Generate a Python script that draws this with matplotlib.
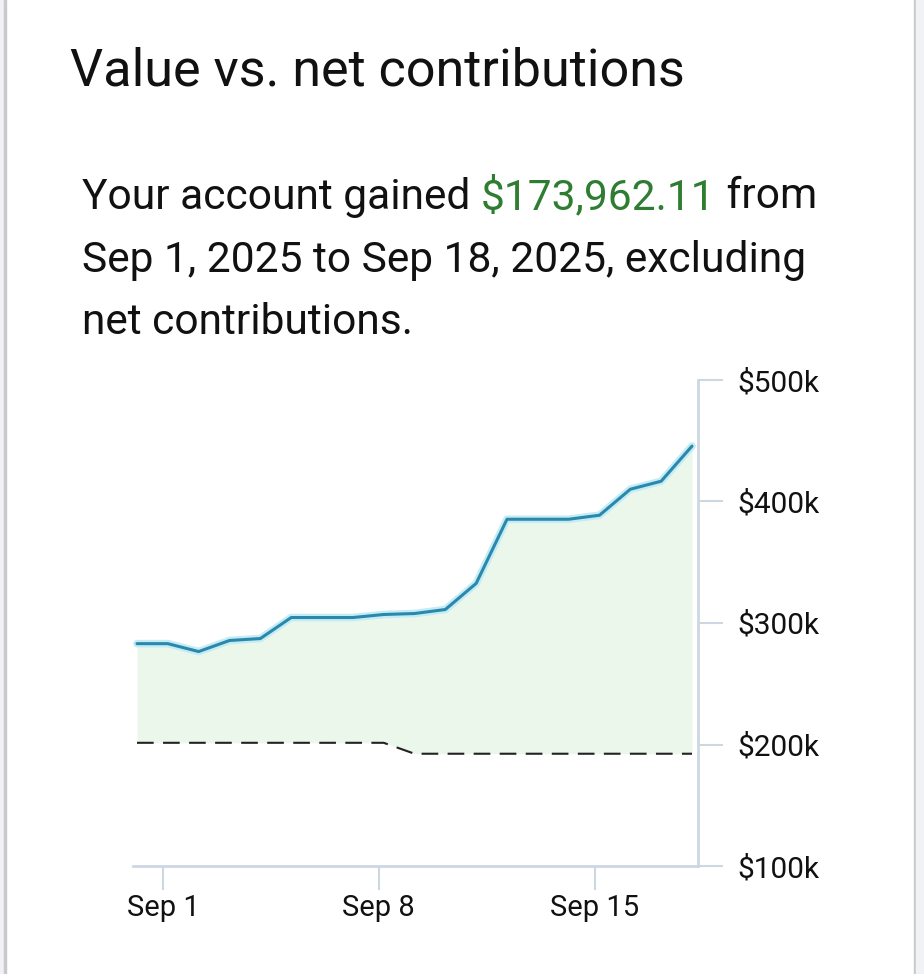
import matplotlib
matplotlib.use("Agg")
import matplotlib.pyplot as plt
import numpy as np
from matplotlib.patches import Rectangle

# ---- data ----
dates = ["Aug 31", "Sep 1", "Sep 2", "Sep 3", "Sep 4", "Sep 5", "Sep 6", "Sep 7", "Sep 8",
         "Sep 9", "Sep 10", "Sep 11", "Sep 12", "Sep 13", "Sep 14", "Sep 15", "Sep 16",
         "Sep 17", "Sep 18"]
account_value_k = [283.0, 283.0, 276.5, 285.6, 287.2, 304.5, 304.5, 304.5, 307.0,
                   307.8, 311.1, 332.6, 385.4, 385.4, 385.4, 388.7, 410.1, 416.7, 445.6]
net_contrib_k = [201.4, 201.4, 201.4, 201.4, 201.4, 201.4, 201.4, 201.4, 201.4,
                 192.4, 192.4, 192.4, 192.4, 192.4, 192.4, 192.4, 192.4, 192.4, 192.4]
tick_labels = ["Sep 1", "Sep 8", "Sep 15"]
tick_days = [1, 8, 15]          # day offsets from Aug 31
y_ticks_k = [100, 200, 300, 400, 500]

# day offset of each sample from Aug 31 (samples taken slightly after midnight)
x = np.arange(len(dates)) + 0.16

W, H = 924, 974
fig = plt.figure(figsize=(W / 100, H / 100), dpi=100)
fig.patch.set_facecolor("white")

# frame of the card
fig.add_artist(Rectangle((0, 0), 4 / W, 1, transform=fig.transFigure, color="#f1f2f5", zorder=0))
fig.add_artist(Rectangle((4 / W, 0), 2 / W, 1, transform=fig.transFigure, color="#c9c9c9", zorder=0))
fig.add_artist(Rectangle((914 / W, 0), 2 / W, 1, transform=fig.transFigure, color="#c9c9c9", zorder=0))
fig.add_artist(Rectangle((916 / W, 0), 8 / W, 1, transform=fig.transFigure, color="#f1f2f5", zorder=0))

font = "Roboto"
fig.text(70 / W, 1 - 72 / H, "Value vs. net contributions", fontsize=37.5, family=font,
         color="#111111", va="center", ha="left")

body_fs = 30.6
line1_y = 1 - 197 / H
t1 = fig.text(82 / W, line1_y, "Your account gained ", fontsize=body_fs, family=font,
              color="#111111", va="center", ha="left")
fig.canvas.draw()
r = fig.canvas.get_renderer()
bb = t1.get_window_extent(r)
t2 = fig.text(bb.x1 / W, line1_y, "$173,962.11", fontsize=body_fs, family=font,
              color="#2e7d32", va="center", ha="left")
bb2 = t2.get_window_extent(r)
fig.text(bb2.x1 / W, line1_y, " from", fontsize=body_fs, family=font,
         color="#111111", va="center", ha="left")
fig.text(82 / W, 1 - 260 / H, "Sep 1, 2025 to Sep 18, 2025, excluding", fontsize=body_fs,
         family=font, color="#111111", va="center", ha="left")
fig.text(82 / W, 1 - 322 / H, "net contributions.", fontsize=body_fs, family=font,
         color="#111111", va="center", ha="left")

# ---- chart ----
left, right, bottom, top = 133, 698, 866, 380
ax = fig.add_axes([left / W, 1 - bottom / H, (right - left) / W, (bottom - top) / H])
ax.set_facecolor("none")

ax.fill_between(x, net_contrib_k, account_value_k, color="#ebf7ea", lw=0, zorder=1)
ax.plot(x, account_value_k, color="#c4ecf5", lw=5.5, solid_capstyle="round",
        solid_joinstyle="round", zorder=2)
ax.plot(x, account_value_k, color="#2a88ad", lw=2.2, solid_capstyle="round",
        solid_joinstyle="round", zorder=3)
ax.plot(x, net_contrib_k, color="#222222", lw=1.5, dashes=(8, 4.5), zorder=3)

ax.set_xlim(x[0] - 4 / 30.83, x[-1] + 6 / 30.83)
ax.set_ylim(100, 500)

spine_c = "#cdd7e2"
for s in ["left", "top"]:
    ax.spines[s].set_visible(False)
for s in ["right", "bottom"]:
    ax.spines[s].set_color(spine_c)
    ax.spines[s].set_linewidth(2)

ax.yaxis.tick_right()
ax.set_yticks(y_ticks_k)
ax.set_yticklabels([f"${v}k" for v in y_ticks_k])
ax.set_xticks(tick_days)
ax.set_xticklabels(tick_labels)
ax.tick_params(axis="y", which="both", direction="out", length=18, width=1.5,
               color=spine_c, pad=10, labelsize=21.5, labelcolor="#111111")
ax.tick_params(axis="x", which="both", direction="out", length=17, width=1.5,
               color=spine_c, pad=3, labelsize=21, labelcolor="#111111")
for lab in ax.get_xticklabels() + ax.get_yticklabels():
    lab.set_family(font)

fig.savefig("out.png", dpi=100, facecolor="white")
